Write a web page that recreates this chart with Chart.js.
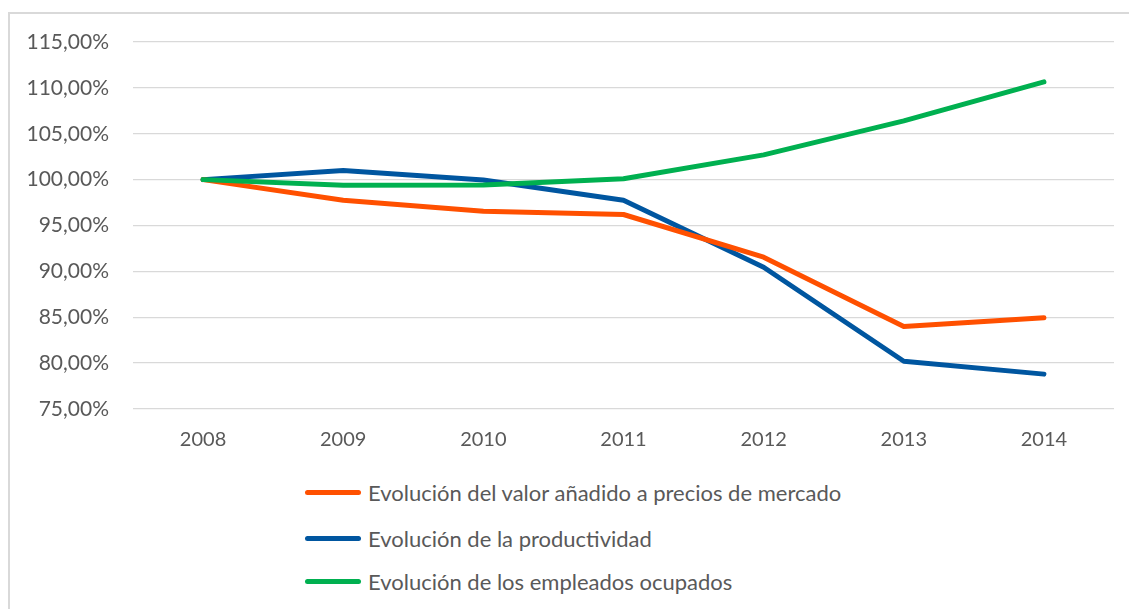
<!DOCTYPE html>
<html>
<head>
<meta charset="utf-8">
<script src="https://cdn.jsdelivr.net/npm/chart.js@4/dist/chart.umd.min.js"></script>
<style>
  html, body { margin: 0; padding: 0; background: #fff; overflow: hidden; }
  body { width: 1129px; height: 609px; position: relative; font-family: Lato, sans-serif; }
  #frame { position: absolute; left: 8px; top: 12px; width: 1300px; height: 700px; border: 2px solid #d9d9d9; box-sizing: border-box; }
  #chart { position: absolute; left: 0; top: 0; }
  #legend { position: absolute; left: 305px; top: 470px; }
  .item { position: absolute; left: 0; height: 30px; display: flex; align-items: center; white-space: nowrap; color: #595959; font-size: 22px; }
  .swatch { width: 56px; height: 5px; border-radius: 3px; margin-right: 7px; }
</style>
</head>
<body>
<div id="frame"></div>
<canvas id="chart" width="1129" height="470"></canvas>
<div id="legend"></div>
<script>
const years = ['2008', '2009', '2010', '2011', '2012', '2013', '2014'];
const valorAnadido = [100.0, 97.75, 96.55, 96.2, 91.55, 84.0, 84.95];
const productividad = [100.0, 101.0, 99.95, 97.75, 90.45, 80.2, 78.8];
const empleados = [100.0, 99.38, 99.42, 100.1, 102.7, 106.4, 110.65];
const seriesNames = [
    'Evolución del valor añadido a precios de mercado',
    'Evolución de la productividad',
    'Evolución de los empleados ocupados'
];
const seriesColors = ['#ff5000', '#0056a0', '#00b050'];
const legendRows = [492, 538, 581];

const textColor = '#595959';
const ctx = document.getElementById('chart').getContext('2d');

function makeSet(i, data) {
    return {
        label: seriesNames[i],
        data: data,
        borderColor: seriesColors[i],
        backgroundColor: seriesColors[i],
        borderWidth: 5,
        borderCapStyle: 'round',
        borderJoinStyle: 'round',
        pointRadius: 0,
        tension: 0
    };
}

const chart = new Chart(ctx, {
    type: 'line',
    data: {
        labels: years,
        datasets: [makeSet(2, empleados), makeSet(0, valorAnadido), makeSet(1, productividad)]
    },
    options: {
        responsive: false,
        animation: false,
        layout: { padding: { top: 42, right: 15, bottom: 0, left: 0 } },
        plugins: {
            legend: { display: false },
            tooltip: { enabled: false }
        },
        scales: {
            x: {
                offset: true,
                grid: { display: false, drawTicks: false },
                border: { display: false },
                ticks: {
                    color: textColor,
                    font: { family: 'Lato', size: 20 },
                    padding: 19
                },
                afterFit: function (scale) { scale.height = 61; }
            },
            y: {
                min: 75,
                max: 115,
                grid: { color: '#d9d9d9', lineWidth: 1.3, drawTicks: false },
                border: { display: false },
                ticks: {
                    stepSize: 5,
                    color: textColor,
                    font: { family: 'Lato', size: 21 },
                    padding: 24,
                    callback: function (v) { return v.toFixed(2).replace('.', ',') + '%'; }
                },
                afterFit: function (scale) { scale.width = 133; }
            }
        }
    }
});

// legend laid out vertically under the plot, like the original
const legend = document.getElementById('legend');
seriesNames.forEach(function (name, i) {
    const row = document.createElement('div');
    row.className = 'item';
    row.style.top = (legendRows[i] - 470 - 15) + 'px';
    const sw = document.createElement('span');
    sw.className = 'swatch';
    sw.style.background = seriesColors[i];
    const label = document.createElement('span');
    label.textContent = name;
    row.appendChild(sw);
    row.appendChild(label);
    legend.appendChild(row);
});
</script>
</body>
</html>
